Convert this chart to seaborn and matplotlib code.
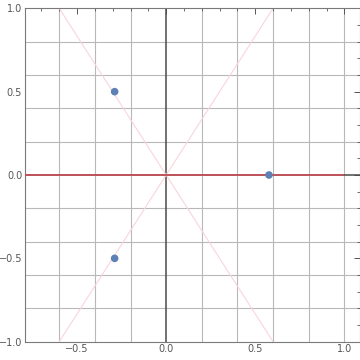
import matplotlib
matplotlib.use("Agg")
import matplotlib.pyplot as plt
from matplotlib.ticker import MultipleLocator, FuncFormatter
import seaborn as sns
import pandas as pd

# noktalar (okunan değerler)
pt_x = [-0.289, 0.577, -0.289]
pt_y = [0.5, 0.0, -0.5]

# pembe çizgiler
diag1_x = [-0.6, 0.6]
diag1_y = [1.0, -1.0]
diag2_x = [-0.6, 0.6]
diag2_y = [-1.0, 1.0]

# kırmızı yatay çizgi
red_x = [-1.0, 1.0]
red_y = [0.0, 0.0]

sns.set_style("white")
plt.rcParams["font.family"] = ["DejaVu Sans"]

fig = plt.figure(figsize=(3.6, 3.6), dpi=100)
ax = fig.add_axes([25 / 360, 18.3 / 360, 334.5 / 360, 333.4 / 360])

ax.set_xlim(-0.792, 1.085)
ax.set_ylim(-1.0, 1.0)

# ızgara
for gx in [-0.6, -0.4, -0.2, 0.2, 0.4, 0.6, 0.8, 1.0]:
    ax.axvline(gx, color="#b8b8b8", lw=0.8, zorder=0)
for gy in [-0.8, -0.6, -0.4, -0.2, 0.2, 0.4, 0.6, 0.8]:
    ax.axhline(gy, color="#b8b8b8", lw=0.8, zorder=0)

# eksen çizgileri
ax.axvline(0, color="#4a4a4a", lw=1.1, zorder=1)
ax.axhline(0, color="#4a4a4a", lw=1.1, zorder=1)

ax.plot(diag1_x, diag1_y, color="#f8d6db", lw=0.8, zorder=2)
ax.plot(diag2_x, diag2_y, color="#f8d6db", lw=0.8, zorder=2)
ax.plot(red_x, red_y, color="#c0555a", lw=1.4, zorder=3, solid_capstyle="butt")

df = pd.DataFrame({"x": pt_x, "y": pt_y})
sns.scatterplot(data=df, x="x", y="y", ax=ax, color="#5e81b5", s=30,
                edgecolor="none", zorder=4, legend=False)

ax.set_xlabel("")
ax.set_ylabel("")

ax.xaxis.set_major_locator(MultipleLocator(0.5))
ax.xaxis.set_minor_locator(MultipleLocator(0.1))
ax.yaxis.set_major_locator(MultipleLocator(0.5))
ax.yaxis.set_minor_locator(MultipleLocator(0.1))
fmt = FuncFormatter(lambda v, p: ("%.1f" % v).replace("-", "\u2212"))
ax.xaxis.set_major_formatter(fmt)
ax.yaxis.set_major_formatter(fmt)

ax.tick_params(which="both", direction="in", top=True, right=True,
               color="#555555", labelsize=7, labelcolor="#555555", pad=2)
ax.tick_params(which="major", length=4, width=0.7)
ax.tick_params(which="minor", length=2, width=0.6)

for s in ax.spines.values():
    s.set_color("#7a7a7a")
    s.set_linewidth(0.8)

fig.savefig("out.png", dpi=100)
